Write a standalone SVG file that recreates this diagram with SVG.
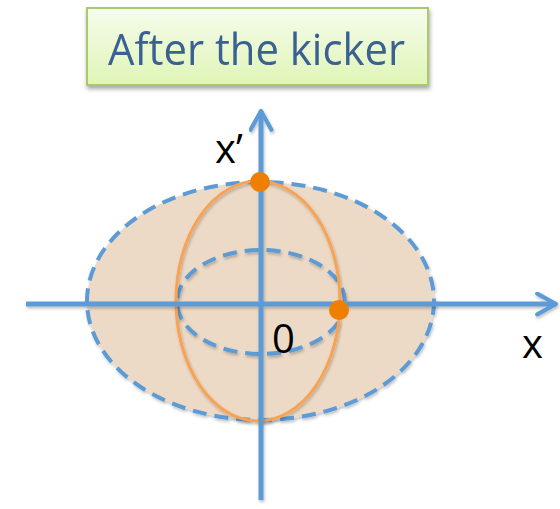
<svg xmlns="http://www.w3.org/2000/svg" width="560" height="509" viewBox="0 0 560 509">
<defs>
<linearGradient id="g" x1="0" y1="0" x2="0" y2="1"><stop offset="0" stop-color="#f5fcec"/><stop offset="1" stop-color="#e0f5b6"/></linearGradient>
<filter id="sh" x="-10%" y="-10%" width="120%" height="130%"><feDropShadow dx="1" dy="3" stdDeviation="2" flood-color="#000" flood-opacity="0.35"/></filter>
<filter id="ls" x="-5%" y="-5%" width="110%" height="110%"><feDropShadow dx="1" dy="2" stdDeviation="1.5" flood-color="#000" flood-opacity="0.25"/></filter>
<marker id="ah" viewBox="0 0 12 12" refX="10" refY="6" markerWidth="5" markerHeight="5" markerUnits="strokeWidth" orient="auto"><path d="M1,1 L10,6 L1,11" fill="none" stroke="#5b9bd5" stroke-width="2" stroke-linecap="round" stroke-linejoin="round"/></marker>
</defs>
<style>
.dash{fill:none;stroke:#5b9bd5;stroke-width:4;stroke-dasharray:14 8}
.axis{stroke:#5b9bd5;stroke-width:5;fill:none}
.lbl{font-family:"Open Sans","Liberation Sans",sans-serif;font-size:40px;fill:#000}
.dot{fill:#ef7f00}
</style>
<g id="title" filter="url(#sh)">
<rect x="87" y="8" width="341" height="77" fill="url(#g)" stroke="#a9c96c" stroke-width="2"/>
<text x="108" y="65" font-family="Open Sans, Liberation Sans, sans-serif" font-size="44" fill="#3a6092" textLength="297" lengthAdjust="spacingAndGlyphs">After the kicker</text>
</g>
<g id="big-ellipse" filter="url(#ls)">
<ellipse cx="260.5" cy="301" rx="173.5" ry="119" fill="#eddac6"/>
<ellipse class="dash" cx="260.5" cy="301" rx="173.5" ry="119"/>
</g>
<g id="inner-ellipse" filter="url(#ls)">
<ellipse class="dash" cx="261" cy="302" rx="84" ry="52"/>
</g>
<g id="orange-ellipse" filter="url(#ls)">
<ellipse cx="258" cy="301" rx="82" ry="120" fill="none" stroke="#f8a352" stroke-width="3"/>
</g>
<g id="connectors" filter="url(#ls)">
<line class="axis" x1="26" y1="304" x2="556" y2="304" marker-end="url(#ah)"/>
<line class="axis" x1="261" y1="500" x2="261" y2="111" marker-end="url(#ah)"/>
</g>
<g id="dots">
<circle class="dot" cx="260" cy="182" r="10"/>
<circle class="dot" cx="339" cy="310" r="10"/>
</g>
<g id="labels">
<text class="lbl" x="215" y="163">x’</text>
<text class="lbl" x="272" y="353">0</text>
<text class="lbl" x="522" y="358">x</text>
</g>
</svg>
